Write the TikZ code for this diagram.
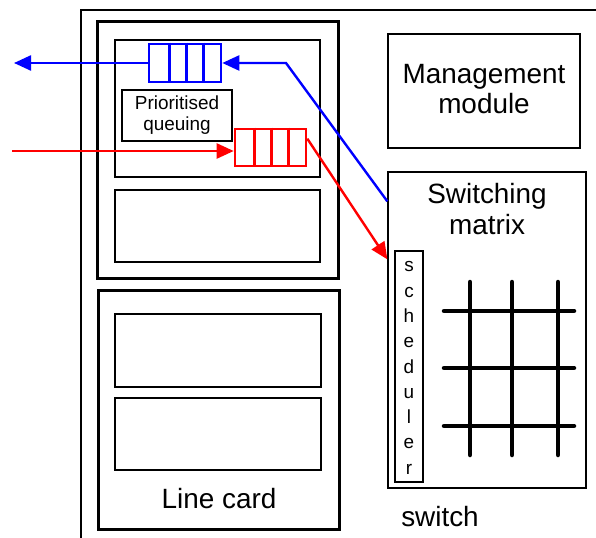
\documentclass[tikz,border=0pt]{standalone}
\usepackage{fontspec}
\setmainfont{Liberation Sans}
\usetikzlibrary{arrows.meta,calc}

\begin{document}
\begin{tikzpicture}[x=1bp,y=-1bp,
  box/.style={draw=black, line width=1.3bp, inner sep=0pt, fill=white},
  card/.style={draw=black, line width=3bp, inner sep=0pt},
  bigtxt/.style={font=\fontsize{28}{31}\selectfont, align=center, inner sep=0pt},
  smalltxt/.style={font=\fontsize{19}{21}\selectfont, align=center, inner sep=0pt},
  queuebox/.style={draw=#1, line width=2.6bp, inner sep=0pt, minimum height=37bp},
  flow/.style={draw=#1, line width=2.4bp, -{Triangle[length=17bp,width=15bp]}},
  bar/.style={line width=4.5bp, line cap=round}
]
\useasboundingbox (0,0) rectangle (596,538);

% outer switch enclosure (runs off the page to the right and bottom)
\draw[line width=1.3bp] (81,540) -- (81,10) -- (598,10);

% upper line card with its port processors
\node[card, minimum width=241bp, minimum height=256bp] (lc1) at (217.5,150) {};
\node[box, minimum width=205bp, minimum height=137bp] (p1) at (217.5,108.5) {};
\node[box, minimum width=205bp, minimum height=72bp] (p2) at (217.5,226) {};

% lower line card
\node[card, minimum width=241bp, minimum height=238bp] (lc2) at (218.5,410) {};
\node[box, minimum width=206bp, minimum height=73bp] (p3) at (218,350.5) {};
\node[box, minimum width=206bp, minimum height=72bp] (p4) at (218,434) {};
\node[bigtxt] (lclabel) at (219,499) {Line card};

% prioritised queuing label
\node[box, minimum width=110bp, minimum height=51bp, smalltxt, text width=110bp] (pq) at (177,115.5) {Prioritised\\queuing};

% blue output queue
\node[queuebox=blue, minimum width=72bp, minimum height=38bp] (bq) at (185,63) {};
\foreach \d in {22,39,56}
  \draw[blue, line width=2.6bp] ($(bq.north west)+(\d,0)$) -- ($(bq.south west)+(\d,0)$);

% red input queue
\node[queuebox=red, minimum width=71bp] (rq) at (270.5,147.5) {};
\foreach \d in {21,38,55}
  \draw[red, line width=2.6bp] ($(rq.north west)+(\d,0)$) -- ($(rq.south west)+(\d,0)$);

% management module
\node[box, minimum width=192bp, minimum height=114bp] (mgmt) at (484,91) {};
\node[bigtxt] (mgmttxt) at (484,89) {Management\\module};

% switching matrix
\node[box, minimum width=198bp, minimum height=316bp] (sw) at (487,330) {};
\node[bigtxt] (swtxt) at (487,209) {Switching\\matrix};

% scheduler
\node[box, minimum width=28bp, minimum height=231bp] (sched) at (409,366.5) {};
\node[font=\fontsize{19}{25.4}\selectfont, align=center, inner sep=0pt] (schedtxt) at (409,368)
  {s\\c\\h\\e\\d\\u\\l\\e\\r};

% crossbar grid
\foreach \x in {470,512,558}
  \draw[bar] (\x,282) -- (\x,455);
\foreach \y in {311,368,426}
  \draw[bar] (444,\y) -- (574,\y);

\node[bigtxt] (swlabel) at (440,517) {switch};

% packet flows
\coordinate (bout) at (14,63);
\coordinate (bend) at (286,63);
\coordinate (rin) at (12,151);

\draw[flow=blue] (bq.west) -- (bout);
\draw[flow=blue] ($(sw.north west)+(0,30)$) -- (bend) -- (bq.east);
\draw[flow=red] (rin) -- (rin -| rq.west);
\draw[flow=red] ($(rq.north east)+(0,11)$) -- ($(sw.north west)+(0,88)$);
\end{tikzpicture}
\end{document}
